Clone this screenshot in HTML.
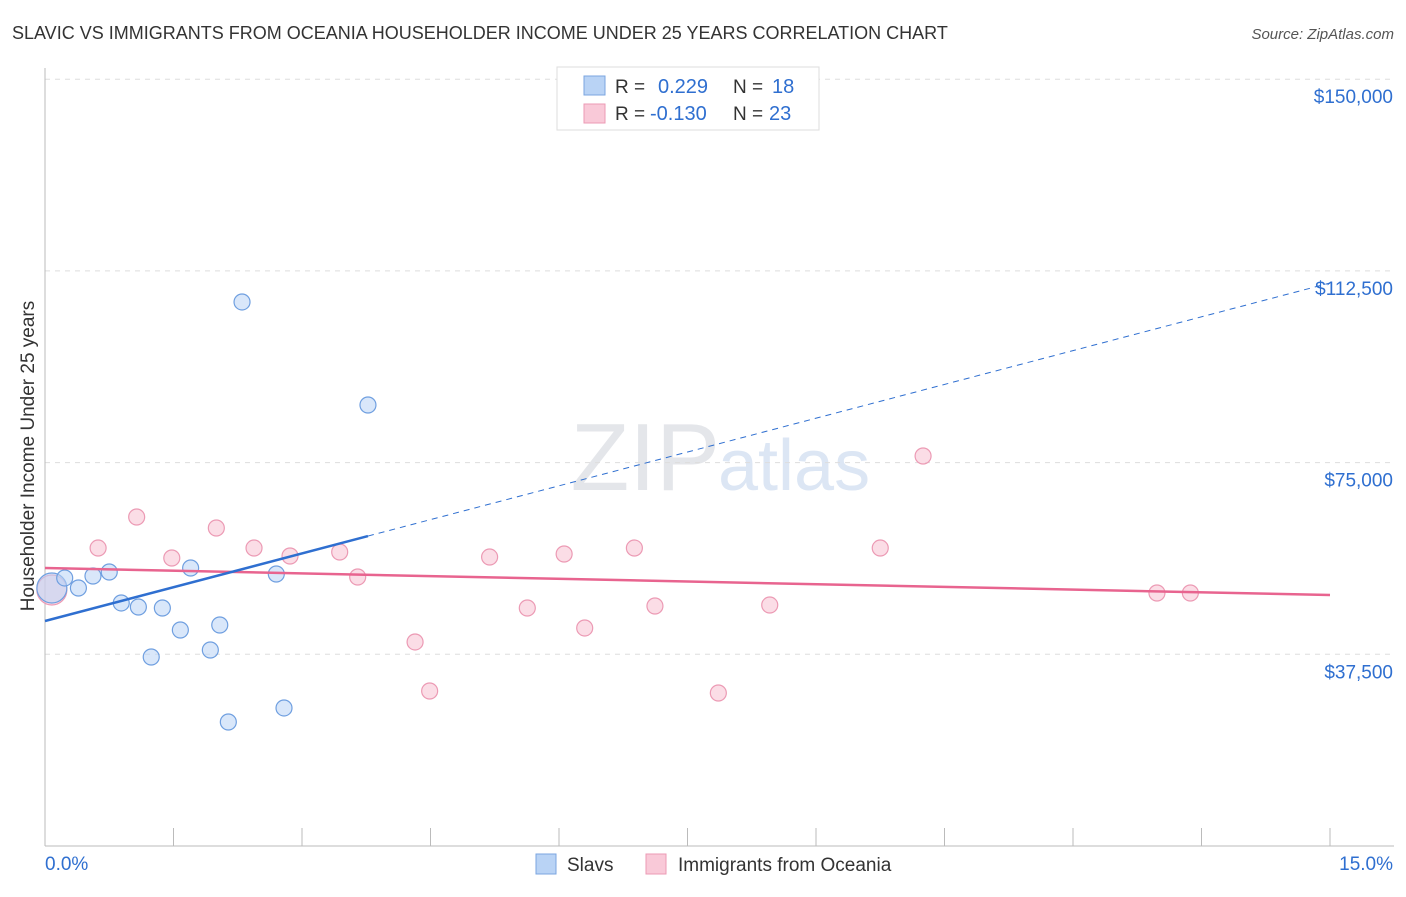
<!DOCTYPE html>
<html><head><meta charset="utf-8"><style>
body{margin:0;background:#fff;font-family:"Liberation Sans",sans-serif}
svg text{font-family:"Liberation Sans",sans-serif}
</style></head><body>
<svg width="1406" height="892" xmlns="http://www.w3.org/2000/svg">
<text x="12" y="39" font-size="18" fill="#333">SLAVIC VS IMMIGRANTS FROM OCEANIA HOUSEHOLDER INCOME UNDER 25 YEARS CORRELATION CHART</text>
<text x="1394" y="39" font-size="15" fill="#555" font-style="italic" text-anchor="end">Source: ZipAtlas.com</text>
<text x="720" y="490" font-size="96" fill="#e4e6ea" text-anchor="end" font-family="Liberation Serif">ZIP</text>
<text x="718" y="490" font-size="72" fill="#dce6f4">atlas</text>
<g id="grid"></g>
<g id="axes"></g>
<g id="marks"></g>
<text transform="translate(34,456) rotate(-90)" font-size="19" fill="#333" text-anchor="middle">Householder Income Under 25 years</text>
<g>
<rect x="557" y="67" width="262" height="63" fill="#fff" stroke="#ddd"/>
<rect x="584" y="76" width="21" height="19" fill="#b9d3f5" stroke="#7ba6e0"/>
<rect x="584" y="104" width="21" height="19" fill="#f9c9d8" stroke="#ec9ab4"/>
<text x="615" y="93" font-size="19" fill="#333">R = </text><text x="658" y="93" font-size="20" fill="#2f6fd0">0.229</text>
<text x="733" y="93" font-size="19" fill="#333">N = </text><text x="772" y="93" font-size="20" fill="#2f6fd0">18</text>
<text x="615" y="120" font-size="19" fill="#333">R = </text><text x="650" y="120" font-size="20" fill="#2f6fd0">-0.130</text>
<text x="733" y="120" font-size="19" fill="#333">N = </text><text x="769" y="120" font-size="20" fill="#2f6fd0">23</text>
</g>
<g>
<rect x="536" y="854" width="20" height="20" fill="#b9d3f5" stroke="#7ba6e0"/>
<text x="567" y="871" font-size="19" fill="#333">Slavs</text>
<rect x="646" y="854" width="20" height="20" fill="#f9c9d8" stroke="#ec9ab4"/>
<text x="678" y="871" font-size="19" fill="#333">Immigrants from Oceania</text>
</g>
</svg>
<script>
const yTicks=[37500,75000,112500,150000];
const yTickLabels=["$37,500","$75,000","$112,500","$150,000"];
const xTickLabels=["0.0%","15.0%"];
const slavX=[0.08,0.23,0.39,0.56,0.75,0.89,1.09,1.37,1.24,1.58,1.70,1.93,2.04,2.14,2.30,2.70,2.79,3.77];
const slavY=[50470,52430,50470,52820,53600,47540,46750,46560,36970,42250,54380,38340,43230,24260,106420,53210,27000,86270];
const oceX=[0.08,0.62,1.07,1.48,2.00,2.44,2.86,3.44,3.65,4.32,4.49,5.19,5.63,6.06,6.30,6.88,7.12,7.86,8.46,9.75,10.25,12.98,13.37];
const oceY=[50080,58290,64360,56340,62210,58290,56730,57510,52620,39910,30320,56530,46560,57120,42650,58290,46950,29930,47140,58290,76290,49490,49490];
const slavTrend=[44010,110130]; // values at 0% and 15%
const slavSolidEnd=3.77;
const oceTrend=[54380,49100];
const NS="http://www.w3.org/2000/svg";
const xs=v=>45+v/15*1285;
const ys=v=>846-v/37500*191.7;
function mk(tag,attrs,parent){const e=document.createElementNS(NS,tag);for(const k in attrs)e.setAttribute(k,attrs[k]);document.getElementById(parent).appendChild(e);return e;}
yTicks.forEach((t,i)=>{
 const g=mk('line',{x1:45,x2:1394,y1:ys(t),y2:ys(t),stroke:'#ddd','stroke-dasharray':'5,5'},'grid');
 
 
 const tx=mk('text',{x:1393,y:ys(t)+24,'font-size':19,fill:'#2f6fd0','text-anchor':'end'},'grid');
 tx.textContent=yTickLabels[i];
 
 
});
const ax=mk('line',{x1:45,x2:45,y1:68,y2:846,stroke:'#bbb'},'axes');


const bx=mk('line',{x1:45,x2:1394,y1:846,y2:846,stroke:'#bbb'},'axes');


for(let i=0;i<=10;i++){
 const t=mk('line',{x1:xs(i*1.5),x2:xs(i*1.5),y1:828,y2:846,stroke:'#bbb'},'axes');
 
 
}
const xl0=mk('text',{x:45,y:870,'font-size':19,fill:'#2f6fd0'},'axes');xl0.textContent=xTickLabels[0];


const xl1=mk('text',{x:1393,y:870,'font-size':19,fill:'#2f6fd0','text-anchor':'end'},'axes');xl1.textContent=xTickLabels[1];


function pts(X,Y,fill,stroke,name){
 X.forEach((x,i)=>{
  const c=mk('circle',{cx:xs(x),cy:ys(Y[i]),r:i===0?15:8,fill:fill,'fill-opacity':0.55,stroke:stroke,'stroke-width':1.2},'marks');
  
  
 });
}
pts(oceX,oceY,'#f7c1d2','#ec9ab4','oceania-point');
pts(slavX,slavY,'#b9d3f5','#6f9fe0','slavs-point');
const lerp=(a,x)=>a[0]+(a[1]-a[0])*x/15;
const l1=mk('line',{x1:xs(0),y1:ys(oceTrend[0]),x2:xs(15),y2:ys(oceTrend[1]),stroke:'#e8648f','stroke-width':2.5},'marks');


const l2=mk('line',{x1:xs(0),y1:ys(slavTrend[0]),x2:xs(slavSolidEnd),y2:ys(lerp(slavTrend,slavSolidEnd)),stroke:'#2f6fd0','stroke-width':2.5},'marks');


const l3=mk('line',{x1:xs(slavSolidEnd),y1:ys(lerp(slavTrend,slavSolidEnd)),x2:xs(15),y2:ys(slavTrend[1]),stroke:'#2f6fd0','stroke-width':1,'stroke-dasharray':'6,5'},'marks');


</script>
</body></html>
